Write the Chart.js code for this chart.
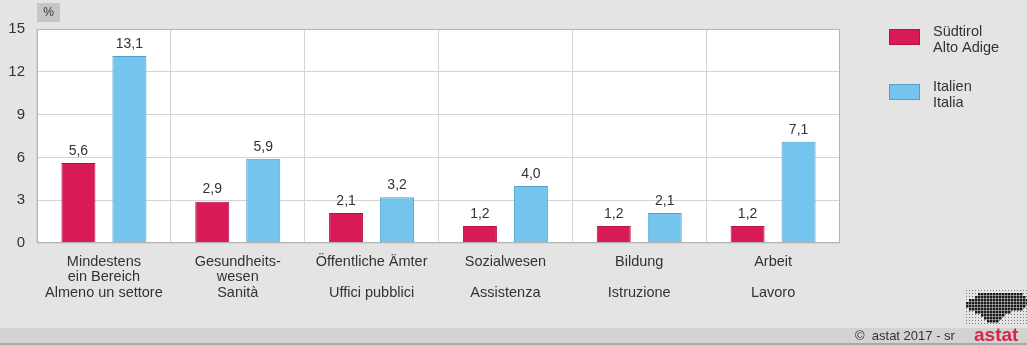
<!DOCTYPE html>
<html>
<head>
<meta charset="utf-8">
<script src="https://cdn.jsdelivr.net/npm/chart.js@4.4.1/dist/chart.umd.min.js"></script>
<style>
  html, body { margin: 0; padding: 0; background: #e4e4e4; }
  #wrap { width: 1027px; height: 345px; position: relative; }
</style>
</head>
<body>
<div id="wrap"><canvas id="barChart" width="1027" height="345"></canvas></div>
<script>
// categories (German / Italian)
var categories = [
  ["Mindestens", "ein Bereich", "Almeno un settore"],
  ["Gesundheits-", "wesen", "Sanità"],
  ["Öffentliche Ämter", "", "Uffici pubblici"],
  ["Sozialwesen", "", "Assistenza"],
  ["Bildung", "", "Istruzione"],
  ["Arbeit", "", "Lavoro"]
];
var suedtirol = [5.6, 2.9, 2.1, 1.2, 1.2, 1.2];
var italien = [13.1, 5.9, 3.2, 4.0, 2.1, 7.1];
var yTicks = [0, 3, 6, 9, 12, 15];

var FONT = "'Liberation Sans', Arial, sans-serif";
var TXT = "#333333";

//-------------
//- BAR CHART -
//-------------
var bgPlugin = {
  id: "bg",
  beforeDraw: function (chart) {
    var ctx = chart.ctx, a = chart.chartArea;
    ctx.save();
    ctx.fillStyle = "#e4e4e4";
    ctx.fillRect(0, 0, chart.width, chart.height);
    // bottom strip
    ctx.fillStyle = "#d3d3d3";
    ctx.fillRect(0, 328, chart.width, 17);
    ctx.fillStyle = "#a9a9a9";
    ctx.fillRect(0, 343, chart.width, 2);
    // plot background
    ctx.fillStyle = "#ffffff";
    ctx.fillRect(a.left, a.top, a.right - a.left, a.bottom - a.top);
    // % box
    ctx.fillStyle = "#c6c6c6";
    ctx.fillRect(37, 3, 23, 19);
    ctx.fillStyle = TXT;
    ctx.font = "12px " + FONT;
    ctx.textAlign = "center";
    ctx.textBaseline = "middle";
    ctx.fillText("%", 48.5, 13);
    ctx.restore();
  },
  afterDraw: function (chart) {
    var ctx = chart.ctx, a = chart.chartArea;
    ctx.save();
    // plot frame
    ctx.strokeStyle = "#b5b5b5";
    ctx.lineWidth = 1;
    ctx.strokeRect(a.left + 0.5, a.top + 0.5, a.right - a.left - 1, a.bottom - a.top - 1);
    // legend
    var ys = [29, 84];
    chart.data.datasets.forEach(function (ds, i) {
      var y = ys[i];
      ctx.fillStyle = ds.backgroundColor;
      ctx.strokeStyle = ds.borderColor;
      ctx.fillRect(889, y, 31, 16);
      ctx.strokeRect(889.5, y + 0.5, 30, 15);
      ctx.fillStyle = TXT;
      ctx.font = "14.5px " + FONT;
      ctx.textAlign = "left";
      ctx.textBaseline = "middle";
      ds.label.split("\n").forEach(function (t, j) {
        ctx.fillText(t, 933, y + 3 + j * 16);
      });
    });
    // footer
    ctx.fillStyle = TXT;
    ctx.font = "13px " + FONT;
    ctx.textAlign = "left";
    ctx.textBaseline = "middle";
    ctx.fillText("©  astat 2017 - sr", 855, 336);
    ctx.fillStyle = "#d8234a";
    ctx.font = "bold 19px " + FONT;
    ctx.fillText("astat", 974, 336);
    // logo dots
    ctx.fillStyle = "#222";
    var rows = [
      [4, 18], [3, 19], [1, 20], [0, 20], [0, 19], [1, 18], [3, 14], [5, 12], [6, 11], [7, 10]
    ];
    for (var r = 0; r < 12; r++) {
      for (var c = 0; c < 21; c++) {
        var x = 966 + c * 3, yy = 290 + r * 3;
        var row = rows[r - 1];
        var dense = row && c >= row[0] && c <= row[1];
        var s = dense ? 2.5 : 1;
        if (!dense) ctx.fillStyle = "#777"; else ctx.fillStyle = "#1a1a1a";
        ctx.fillRect(x, yy, s, s);
      }
    }
    ctx.restore();
  },
  afterDatasetsDraw: function (chart) {
    var ctx = chart.ctx;
    ctx.save();
    ctx.fillStyle = TXT;
    ctx.font = "14px " + FONT;
    ctx.textAlign = "center";
    ctx.textBaseline = "bottom";
    chart.data.datasets.forEach(function (ds, i) {
      chart.getDatasetMeta(i).data.forEach(function (bar, j) {
        ctx.fillText(ds.data[j].toFixed(1).replace(".", ","), bar.x, bar.y - 5);
      });
    });
    ctx.restore();
  }
};

var barChartCanvas = document.getElementById("barChart").getContext("2d");
var barChart = new Chart(barChartCanvas, {
  type: "bar",
  data: {
    labels: categories,
    datasets: [
      {
        label: "Südtirol\nAlto Adige",
        data: suedtirol,
        backgroundColor: "#d81b57",
        borderColor: "#b8123f",
        borderWidth: 1
      },
      {
        label: "Italien\nItalia",
        data: italien,
        backgroundColor: "#74c4ee",
        borderColor: "#4f9fcc",
        borderWidth: 1
      }
    ]
  },
  options: {
    responsive: false,
    animation: false,
    layout: { padding: { left: 0, right: 187, top: 29, bottom: 0 } },
    categoryPercentage: 0.762,
    barPercentage: 0.667,
    plugins: { legend: { display: false }, tooltip: { enabled: false } },
    scales: {
      x: {
        grid: { color: "#d4d4d4", drawTicks: false, offset: true },
        border: { display: false },
        ticks: {
          color: TXT,
          font: { family: FONT, size: 14.5, lineHeight: 1.08 },
          padding: 11,
          maxRotation: 0,
          autoSkip: false
        },
        afterFit: function (s) { s.height = 102; }
      },
      y: {
        min: 0,
        max: 15,
        afterBuildTicks: function (s) { s.ticks = yTicks.map(function (v) { return { value: v }; }); },
        grid: { color: "#d4d4d4", drawTicks: false },
        border: { display: false },
        ticks: {
          color: TXT,
          font: { family: FONT, size: 15 },
          padding: 12
        },
        afterFit: function (s) { s.width = 37; }
      }
    }
  },
  plugins: [bgPlugin]
});
</script>
</body>
</html>
